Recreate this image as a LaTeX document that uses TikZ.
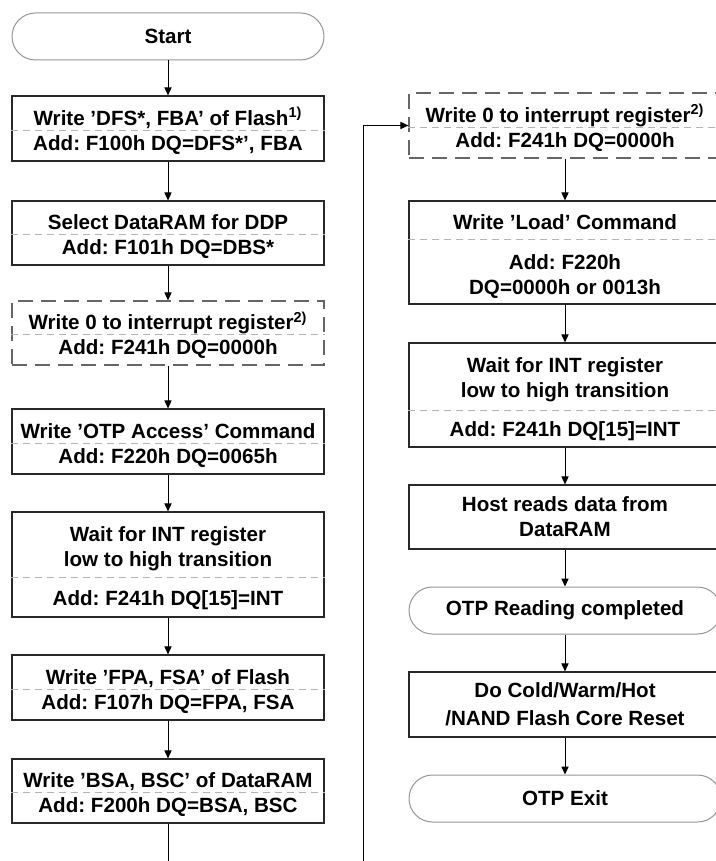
\documentclass[tikz,border=0pt]{standalone}
\usepackage{fontspec}
\setmainfont{Liberation Sans}
\usepackage{tikz}
\usetikzlibrary{arrows.meta,positioning}
\definecolor{ink}{RGB}{0,0,0}
\definecolor{frame}{RGB}{40,40,40}
\definecolor{rim}{RGB}{150,150,150}
\definecolor{rule}{RGB}{180,180,180}
% pushes the upper half of a split box down a little
\newcommand{\capstrut}{\rule{0pt}{11.2pt}}
\tikzset{
  box/.style={draw=frame,line width=0.6pt,fill=white,inner sep=0pt,align=center,minimum width=156pt},
  optbox/.style={box,draw=black!60,dash pattern=on 7.5pt off 4pt},
  term/.style={box,draw=rim,line width=0.5pt,rounded corners=11.75pt,minimum height=23.5pt},
  split/.style={draw=rule,line width=0.4pt,dash pattern=on 3.5pt off 2.5pt},
  flow/.style={-{Triangle[length=4pt,width=3.6pt]},ink,line width=0.5pt},
  tail/.style={ink,line width=0.5pt},
}
\begin{document}
\begin{tikzpicture}[x=0.5pt,y=-0.5pt, every node/.style={font=\fontsize{10.3}{12.5}\selectfont\bfseries\frenchspacing}]
\useasboundingbox (0,0) rectangle (716,861);
% left column
\node[term] (start) at (168,36.5) {Start};
\node[box, minimum height=32.5pt] (flash) at (168,128.5) {\capstrut Write 'DFS*, FBA' of Flash\textsuperscript{1)}\\Add: F100h DQ=DFS*', FBA};
\node[box, minimum height=32pt] (ram) at (168,233) {\capstrut Select DataRAM for DDP\\Add: F101h DQ=DBS*};
\node[optbox, minimum height=32pt] (clr1) at (168,333) {\capstrut Write 0 to interrupt register\textsuperscript{2)}\\Add: F241h DQ=0000h};
\node[box, minimum height=32.5pt] (otp) at (168,441.5) {\capstrut Write 'OTP Access' Command\\Add: F220h DQ=0065h};
\node[box, minimum height=52.5pt] (wait1) at (168,564.5) {\capstrut Wait for INT register\\low to high transition\\[7pt]Add: F241h DQ[15]=INT};
\node[box, minimum height=32.5pt] (fsa) at (168,687.5) {\capstrut Write 'FPA, FSA' of Flash\\Add: F107h DQ=FPA, FSA};
\node[box, minimum height=32pt] (bsa) at (168,791) {\capstrut Write 'BSA, BSC' of DataRAM\\Add: F200h DQ=BSA, BSC};
\coordinate (contL) at (168,866);
% right column
\node[optbox, minimum height=32.5pt] (clr2) at (565,125.5) {\capstrut Write 0 to interrupt register\textsuperscript{2)}\\Add: F241h DQ=0000h};
\node[box, minimum height=51.5pt] (load) at (565,252.5) {\capstrut Write 'Load' Command\\[7.5pt]Add: F220h\\DQ=0000h or 0013h};
\node[box, minimum height=52pt] (wait2) at (565,395) {\capstrut Wait for INT register\\low to high transition\\[7pt]Add: F241h DQ[15]=INT};
\node[box, minimum height=32pt] (host) at (565,517) {Host reads data from\\DataRAM};
\node[term] (done) at (565,610.5) {OTP Reading completed};
\node[box, minimum height=32.5pt] (reset) at (565,704.5) {Do Cold/Warm/Hot\\[1.5pt]/NAND Flash Core Reset};
\node[term] (exitp) at (565,798.5) {OTP Exit};
\coordinate (contR) at (363,866);
% dividers
\draw[split] (flash.west |- 0,130) -- (flash.east |- 0,130);
\draw[split] (ram.west |- 0,234) -- (ram.east |- 0,234);
\draw[split] (clr1.west |- 0,334) -- (clr1.east |- 0,334);
\draw[split] (otp.west |- 0,443) -- (otp.east |- 0,443);
\draw[split] (wait1.west |- 0,577) -- (wait1.east |- 0,577);
\draw[split] (fsa.west |- 0,689) -- (fsa.east |- 0,689);
\draw[split] (bsa.west |- 0,792) -- (bsa.east |- 0,792);
\draw[split] (clr2.west |- 0,127) -- (clr2.east |- 0,127);
\draw[split] (load.west |- 0,239) -- (load.east |- 0,239);
\draw[split] (wait2.west |- 0,410) -- (wait2.east |- 0,410);
% arrows
\draw[flow] (start) -- (flash);  \draw[flow] (flash) -- (ram);
\draw[flow] (ram) -- (clr1);     \draw[flow] (clr1) -- (otp);
\draw[flow] (otp) -- (wait1);    \draw[flow] (wait1) -- (fsa);
\draw[flow] (fsa) -- (bsa);      \draw[tail] (bsa) -- (contL);
\draw[flow] (contR) |- (clr2);
\draw[flow] (clr2) -- (load);    \draw[flow] (load) -- (wait2);
\draw[flow] (wait2) -- (host);   \draw[flow] (host) -- (done);
\draw[flow] (done) -- (reset);   \draw[flow] (reset) -- (exitp);
\end{tikzpicture}
\end{document}
